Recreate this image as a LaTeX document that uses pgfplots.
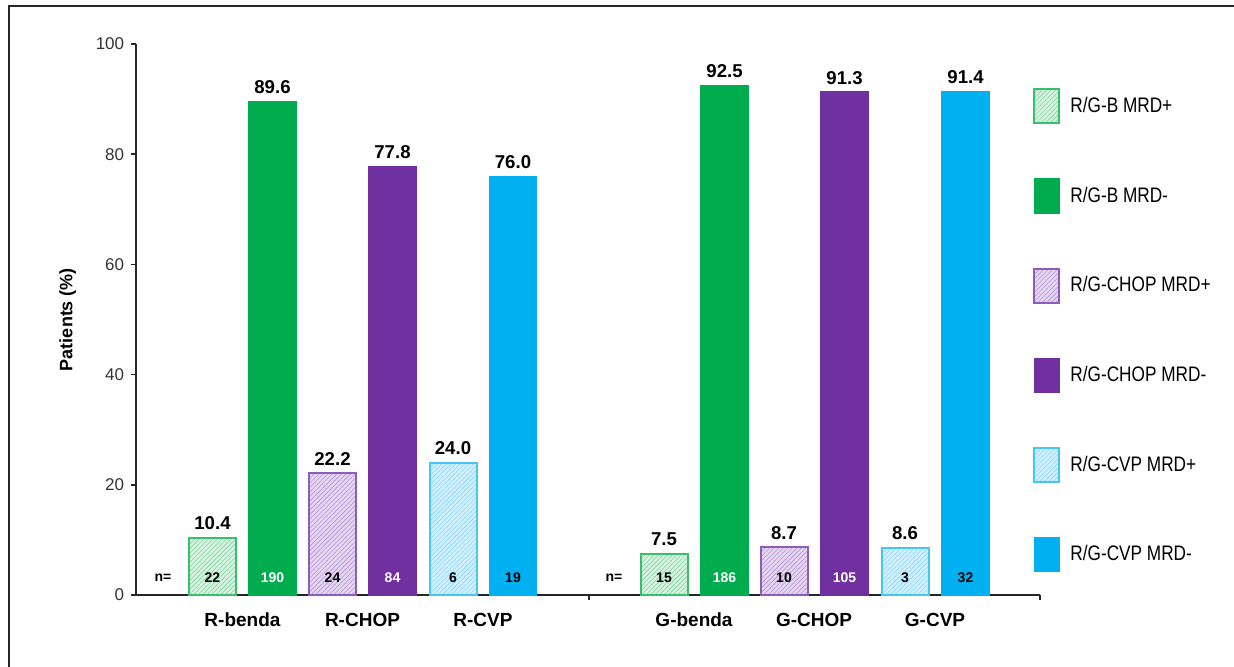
\documentclass[border=0pt]{standalone}
\usepackage{pgfplots}
\pgfplotsset{compat=1.18}
\usetikzlibrary{patterns.meta}
\usepackage{fontspec}
\setmainfont{Liberation Sans}
\newfontfamily\legfont[FakeStretch=0.82]{Liberation Sans}

\definecolor{bgreen}{RGB}{0,172,78}
\definecolor{bgreenL}{RGB}{214,242,224}
\definecolor{bgreenE}{RGB}{56,190,108}
\definecolor{bgreenH}{RGB}{130,214,160}
\definecolor{cpurp}{RGB}{112,48,160}
\definecolor{cpurpL}{RGB}{228,214,240}
\definecolor{cpurpE}{RGB}{142,92,188}
\definecolor{cpurpH}{RGB}{182,150,214}
\definecolor{vblue}{RGB}{0,176,240}
\definecolor{vblueL}{RGB}{208,240,253}
\definecolor{vblueE}{RGB}{72,196,245}
\definecolor{vblueH}{RGB}{140,214,247}

\tikzset{
  hatchbar/.style n args={3}{fill=#1, draw=#2, line width=1pt,
    postaction={pattern={Lines[angle=45,distance=1.6pt,line width=0.3pt]}, pattern color=#3}},
  solidbar/.style={fill=#1, draw=#1, line width=0.6pt},
}

\begin{document}
\begin{tikzpicture}[x=1pt,y=1pt]
\useasboundingbox (-68,-35.5) rectangle (549,297.5);
% outer frame
\draw[line width=1.1pt, black!85] (-63.5,-45) -- (-63.5,294.5) -- (560,294.5);
\begin{axis}[
  at={(0,0)}, anchor=south west,
  scale only axis, width=452pt, height=275.5pt,
  xmin=136, xmax=1040, ymin=0, ymax=100,
  axis x line*=bottom, axis y line*=left,
  axis line style={line width=0.8pt, black!85},
  every tick/.style={line width=0.8pt, black!85},
  tick align=outside, major tick length=2.4pt,
  ytick={0,20,40,60,80,100},
  yticklabel style={font=\fontsize{8.5}{10}\selectfont, text=black!80},
  /pgf/number format/assume math mode=true,
  xtick={589,1040}, xticklabels={},
  extra x ticks={242.5,362.5,483,694,814,935},
  extra x tick labels={R-benda,R-CHOP,R-CVP,G-benda,G-CHOP,G-CVP},
  extra x tick style={major tick length=0pt,
    xticklabel style={font=\bfseries\fontsize{9.5}{11}\selectfont, yshift=-5.5pt}},
  ylabel={Patients (\%)},
  ylabel style={font=\bfseries\fontsize{9}{11}\selectfont, yshift=3pt},
  clip=false,
  bar width=47,
  legend cell align=left,
  legend style={draw=none, fill=none, inner sep=0pt, at={(axis cs:1033,92)}, anchor=north west,
    row sep=27pt, font=\legfont\fontsize{10.5}{12}\selectfont,
    nodes={inner xsep=5pt}},
  value/.style={nodes near coords={\pgfmathprintnumber[fixed,fixed zerofill,precision=1]{\pgfplotspointmeta}},
    nodes near coords style={font=\bfseries\fontsize{9.3}{10}\selectfont, text=black}},
  nlab/.style={forget plot, draw=none, mark=none, nodes near coords, point meta=explicit symbolic,
    nodes near coords style={anchor=center, font=\bfseries\fontsize{7}{8}\selectfont, text=#1}},
]
% legend entries
\addlegendimage{legend image code/.code={\draw[hatchbar={bgreenL}{bgreenE}{bgreenH}] (0pt,-8.5pt) rectangle (12.5pt,8.5pt);}}
\addlegendentry{R/G-B MRD+}
\addlegendimage{legend image code/.code={\draw[solidbar=bgreen] (0pt,-8.5pt) rectangle (12.5pt,8.5pt);}}
\addlegendentry{R/G-B MRD-}
\addlegendimage{legend image code/.code={\draw[hatchbar={cpurpL}{cpurpE}{cpurpH}] (0pt,-8.5pt) rectangle (12.5pt,8.5pt);}}
\addlegendentry{R/G-CHOP MRD+}
\addlegendimage{legend image code/.code={\draw[solidbar=cpurp] (0pt,-8.5pt) rectangle (12.5pt,8.5pt);}}
\addlegendentry{R/G-CHOP MRD-}
\addlegendimage{legend image code/.code={\draw[hatchbar={vblueL}{vblueE}{vblueH}] (0pt,-8.5pt) rectangle (12.5pt,8.5pt);}}
\addlegendentry{R/G-CVP MRD+}
\addlegendimage{legend image code/.code={\draw[solidbar=vblue] (0pt,-8.5pt) rectangle (12.5pt,8.5pt);}}
\addlegendentry{R/G-CVP MRD-}

% bars: left group rituximab, right group obinutuzumab
\addplot[forget plot, ybar, bar shift=0pt, hatchbar={bgreenL}{bgreenE}{bgreenH}, value] coordinates {(212.5,10.4) (664,7.5)};
\addplot[forget plot, ybar, bar shift=0pt, solidbar=bgreen, value] coordinates {(272.5,89.6) (724.5,92.5)};
\addplot[forget plot, ybar, bar shift=0pt, hatchbar={cpurpL}{cpurpE}{cpurpH}, value] coordinates {(332.5,22.2) (784,8.7)};
\addplot[forget plot, ybar, bar shift=0pt, solidbar=cpurp, value] coordinates {(392.5,77.8) (844.5,91.3)};
\addplot[forget plot, ybar, bar shift=0pt, hatchbar={vblueL}{vblueE}{vblueH}, value] coordinates {(453,24.0) (905,8.6)};
\addplot[forget plot, ybar, bar shift=0pt, solidbar=vblue, value] coordinates {(513,76.0) (965.5,91.4)};

% patient counts
\addplot[nlab=black] coordinates {(163,3.1) [n=] (212.5,3.1) [22] (332.5,3.1) [24] (453,3.1) [6] (513,3.1) [19]
  (614,3.1) [n=] (664,3.1) [15] (784,3.1) [10] (905,3.1) [3] (965.5,3.1) [32]};
\addplot[nlab=white] coordinates {(272.5,3.1) [190] (392.5,3.1) [84] (724.5,3.1) [186] (844.5,3.1) [105]};
\end{axis}
\end{tikzpicture}
\end{document}
